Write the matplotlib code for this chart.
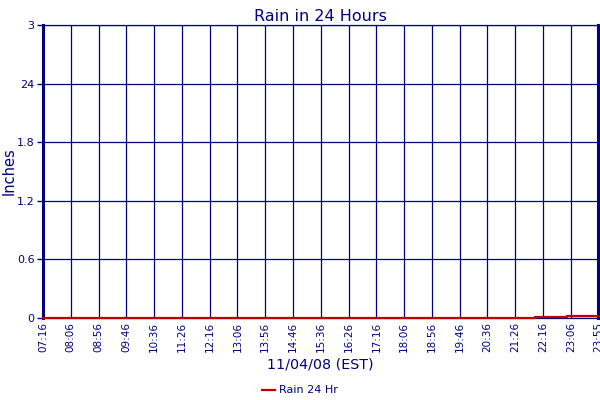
import matplotlib
matplotlib.use("Agg")
import matplotlib.pyplot as plt

plt.rcParams['font.family'] = ['DejaVu Sans']

NAVY = "#000080"

x_tick_labels = ["07:16", "08:06", "08:56", "09:46", "10:36", "11:26", "12:16",
                 "13:06", "13:56", "14:46", "15:36", "16:26", "17:16", "18:06",
                 "18:56", "19:46", "20:36", "21:26", "22:16", "23:06", "23:55"]
y_ticks = [0, 0.6, 1.2, 1.8, 2.4, 3]
y_tick_labels = ["0", "0.6", "1.2", "1.8", "24", "3"]

rain_times = ["07:16", "22:01", "22:59", "23:55"]
rain_values = [0.0, 0.01, 0.02, 0.02]


def to_min(s):
    h, m = s.split(":")
    return int(h) * 60 + int(m)


xt = [to_min(s) for s in x_tick_labels]
rx = [to_min(s) for s in rain_times]

fig = plt.figure(figsize=(6, 4), dpi=100)
ax = fig.add_axes([43 / 600, 82 / 400, 555 / 600, 293 / 400])

ax.set_xlim(xt[0], xt[-1])
ax.set_ylim(0, 3)
ax.set_xticks(xt)
ax.set_xticklabels(x_tick_labels, rotation=90, fontsize=7.5, color=NAVY)
ax.set_yticks(y_ticks)
ax.set_yticklabels(y_tick_labels, fontsize=8, color=NAVY)
ax.tick_params(axis='x', length=0, pad=3)
ax.tick_params(axis='y', length=4, width=1, color=NAVY, pad=2)

ax.grid(True, color=NAVY, linewidth=0.9)
ax.set_axisbelow(True)

for side in ['left', 'right']:
    ax.spines[side].set_color(NAVY)
    ax.spines[side].set_linewidth(2.2)
for side in ['top', 'bottom']:
    ax.spines[side].set_color(NAVY)
    ax.spines[side].set_linewidth(0.9)

ax.plot(rx, rain_values, drawstyle='steps-post', color="#c00000",
        linewidth=1.6, label="Rain 24 Hr", clip_on=False, zorder=5)

ax.set_title("Rain in 24 Hours", fontsize=11.5, color=NAVY, pad=3)
ax.set_xlabel("11/04/08 (EST)", fontsize=10.3, color=NAVY, labelpad=4)
ax.set_ylabel("Inches", fontsize=10.5, color=NAVY)
ax.yaxis.set_label_coords(-26 / 555, 0.5)

leg = fig.legend(loc='lower center', bbox_to_anchor=(0.5, -0.008), frameon=False,
                 fontsize=8, handlelength=1.2, handletextpad=0.4,
                 borderaxespad=0.3)
for t in leg.get_texts():
    t.set_color(NAVY)

fig.savefig("out.png", dpi=100)
